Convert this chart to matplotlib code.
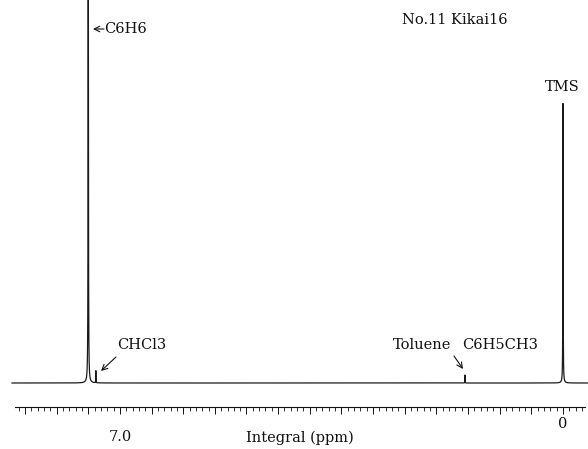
import numpy as np
import matplotlib
matplotlib.use("Agg")
import matplotlib.pyplot as plt
from matplotlib.ticker import FixedLocator

# --- data ---
peak_labels = ["C6H6", "CHCl3", "Toluene CH3", "TMS"]
peak_ppm = [7.50, 7.38, 1.55, 0.00]
peak_height = [520.0, 12.0, 8.0, 280.0]
peak_hwhm = [0.003, 0.0015, 0.0015, 0.0025]
tick_labels = {7.0: "7.0", 0.0: "0"}

W, H = 588, 449
plt.rcParams["font.family"] = ["DejaVu Serif", "Liberation Serif"]
fig = plt.figure(figsize=(W / 100, H / 100), dpi=100)

def ppm(xpx):
    return (563 - xpx) / 63.3

def yv(ypx):
    return 383 - ypx

ax = fig.add_axes([0, 0, 1, 1])
ax.set_xlim(ppm(0), ppm(W))
ax.set_ylim(yv(H), yv(0))
ax.axis("off")

x = np.linspace(ppm(12), ppm(W + 2), 40000)
y = np.zeros_like(x)
for p, h, w in zip(peak_ppm, peak_height, peak_hwhm):
    y += h / (1 + ((x - p) / w) ** 2)
ax.plot(x, y, color="#1a1a1a", lw=0.9)

fs = 10.5
col = "#111111"
arr = dict(arrowstyle="->", lw=0.8, color=col, shrinkA=0, shrinkB=0)

def label(xpx, ypx, s, ha="left"):
    ax.text(ppm(xpx), yv(ypx), s, ha=ha, va="center", fontsize=fs, color=col)

# C6H6 label with arrow
ax.annotate("", xy=(ppm(93), yv(29)), xytext=(ppm(104), yv(29)), arrowprops=arr)
label(104, 29, "C6H6")
# CHCl3
label(117, 345, "CHCl3")
ax.annotate("", xy=(ppm(101), yv(371)), xytext=(ppm(116), yv(357)), arrowprops=arr)
# Toluene
label(451, 345, "Toluene", ha="right")
label(462, 345, "C6H5CH3")
ax.annotate("", xy=(ppm(463), yv(369)), xytext=(ppm(454), yv(356)), arrowprops=arr)
# TMS and title
label(562, 87, "TMS", ha="center")
label(455, 20, "No.11 Kikai16", ha="center")

# integral ruler
rax = fig.add_axes([0, 1 - 407 / H, 1, 0.0001])
rax.set_xlim(ppm(0), ppm(W))
rax.patch.set_visible(False)
for s in ["top", "left", "right"]:
    rax.spines[s].set_visible(False)
lo, hi = ppm(585), ppm(15)
rax.spines["bottom"].set_bounds(hi, lo)
rax.spines["bottom"].set_linewidth(0.8)
rax.spines["bottom"].set_color(col)
rax.set_yticks([])
majors = [t for t in np.arange(0.0, 8.7, 0.5) if lo <= t <= hi]
minors = [t for t in np.arange(-0.3, 8.7, 0.1) if lo <= t <= hi]
rax.xaxis.set_major_locator(FixedLocator(majors))
rax.xaxis.set_minor_locator(FixedLocator(minors))
rax.tick_params(axis="x", which="major", direction="out", length=5, width=0.7,
                color=col, labelbottom=False)
rax.tick_params(axis="x", which="minor", direction="out", length=3, width=0.6, color=col)

ax.text(7.0, yv(437), tick_labels[7.0], ha="center", va="center", fontsize=fs, color=col)
ax.text(0.0, yv(424), tick_labels[0.0], ha="center", va="center", fontsize=fs, color=col)
label(300, 438, "Integral (ppm)", ha="center")

fig.savefig("out.png", dpi=100)
